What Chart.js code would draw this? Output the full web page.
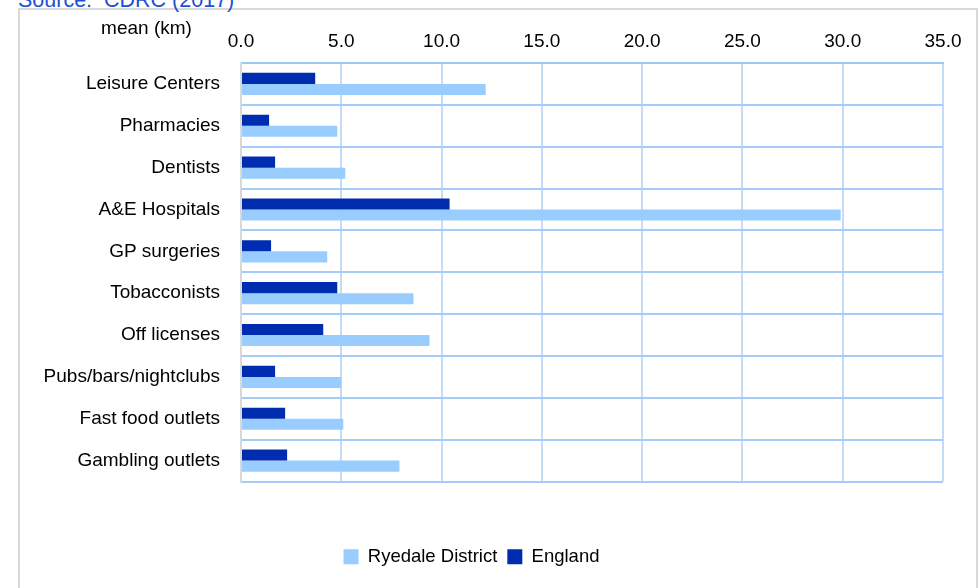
<!DOCTYPE html>
<html>
<head>
<meta charset="utf-8">
<script src="https://cdn.jsdelivr.net/npm/chart.js@4.4.1/dist/chart.umd.min.js"></script>
<style>
    html, body { margin: 0; padding: 0; background: #fff; overflow: hidden; }
    #page { position: relative; width: 980px; height: 588px; }
    #frame {
        position: absolute; left: 18px; top: 8px; width: 960px; height: 600px;
        border: 2px solid #d9d9d9; box-sizing: border-box;
    }
    #source {
        position: absolute; left: 18px; top: -12px; line-height: 20px;
        font: 21.5px "Liberation Sans", Arial, sans-serif; color: #1d4fd2;
        white-space: pre;
    }
    #wrap { position: absolute; left: 0; top: 0; width: 980px; height: 588px; }
</style>
</head>
<body>
<div id="page">
    <div id="frame"></div>
    <div id="source">Source:  CDRC (2017)</div>
    <div id="wrap"><canvas id="barChart"></canvas></div>
</div>
<script>
    const categories = [
        'Leisure Centers', 'Pharmacies', 'Dentists', 'A&E Hospitals', 'GP surgeries',
        'Tobacconists', 'Off licenses', 'Pubs/bars/nightclubs', 'Fast food outlets', 'Gambling outlets'
    ];
    const ryedaleValues = [12.2, 4.8, 5.2, 29.9, 4.3, 8.6, 9.4, 5.0, 5.1, 7.9];
    const englandValues = [3.7, 1.4, 1.7, 10.4, 1.5, 4.8, 4.1, 1.7, 2.2, 2.3];
    const axisTitle = 'mean (km)';
    const xMin = 0;
    const xMax = 35;
    const xStep = 5;

    const font = { family: '"Liberation Sans", Arial, sans-serif', size: 19 };
    const legendFont = { family: '"Liberation Sans", Arial, sans-serif', size: 18.5 };

    // draws "mean (km)" above the category labels
    const axisTitlePlugin = {
        id: 'axisTitle',
        afterDraw(chart) {
            const ctx = chart.ctx;
            ctx.save();
            ctx.font = `${font.size}px ${font.family}`;
            ctx.fillStyle = '#000';
            ctx.textAlign = 'center';
            ctx.textBaseline = 'middle';
            ctx.fillText(axisTitle, 146.5, 29);
            ctx.restore();
        }
    };

    const barChart = document.getElementById('barChart');

    new Chart(barChart, {
        type: 'bar',
        data: {
            labels: categories,
            datasets: [
                {
                    label: 'England',
                    data: englandValues,
                    backgroundColor: '#002db0',
                },
                {
                    label: 'Ryedale District',
                    data: ryedaleValues,
                    backgroundColor: '#99ccff',
                },
            ],
        },
        options: {
            indexAxis: 'y',
            responsive: true,
            maintainAspectRatio: false,
            animation: false,
            layout: {
                padding: { top: 0, right: 37, left: 0, bottom: 12 }
            },
            datasets: {
                bar: { categoryPercentage: 0.53, barPercentage: 1.0 }
            },
            plugins: {
                title: { display: false },
                tooltip: { enabled: false },
                legend: {
                    display: true,
                    position: 'bottom',
                    reverse: true,
                    title: {
                        display: true,
                        text: '',
                        font: { size: 10 },
                        padding: { top: 44, bottom: 0 }
                    },
                    labels: {
                        boxWidth: 15,
                        boxHeight: 15,
                        padding: 10,
                        color: '#000',
                        font: legendFont,
                    }
                },
            },
            scales: {
                x: {
                    position: 'top',
                    min: xMin,
                    max: xMax,
                    ticks: {
                        stepSize: xStep,
                        padding: 10,
                        color: '#000',
                        font: font,
                        callback: (v) => Number(v).toFixed(1),
                    },
                    grid: {
                        color: '#c4dcf6',
                        lineWidth: 2,
                        drawTicks: false,
                    },
                    border: { color: '#99c9f8', width: 2 },
                    afterFit: (scale) => { scale.height = 63; },
                },
                y: {
                    ticks: {
                        padding: 21,
                        color: '#000',
                        font: font,
                    },
                    grid: {
                        color: '#a3cdf7',
                        lineWidth: 2,
                        drawTicks: false,
                    },
                    border: { color: '#d9d9d9', width: 2 },
                    afterFit: (scale) => { scale.width = 241; },
                },
            },
        },
        plugins: [axisTitlePlugin],
    });
</script>
</body>
</html>
